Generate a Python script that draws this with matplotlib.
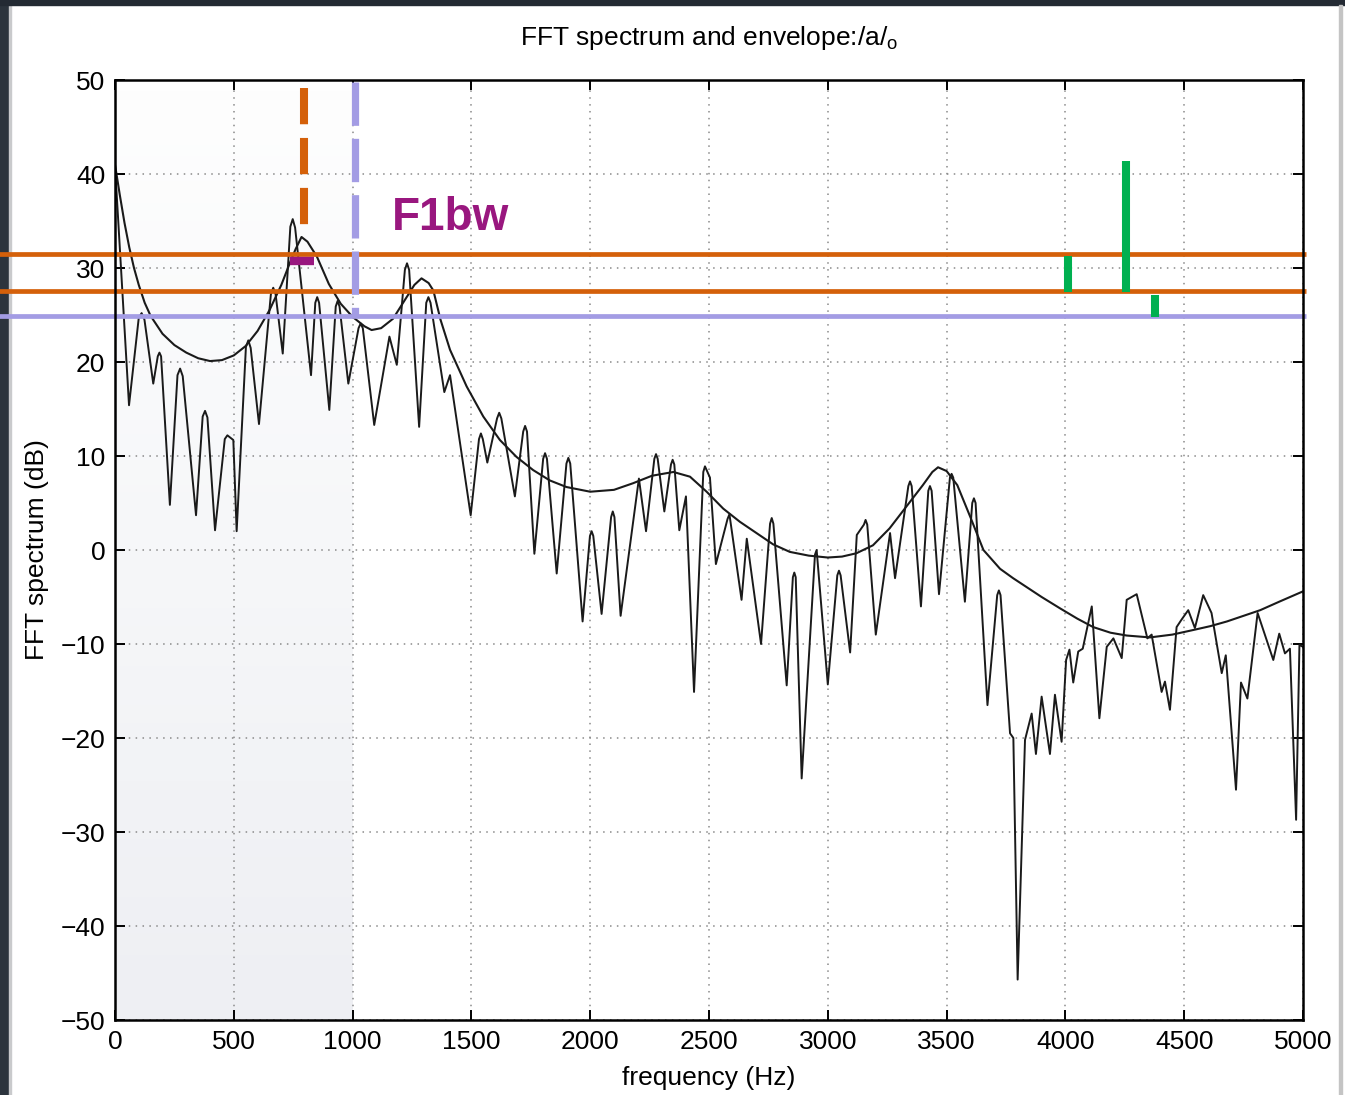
import numpy as np
import matplotlib.pyplot as plt
from matplotlib.patches import Rectangle
from matplotlib.colors import LinearSegmentedColormap

plt.rcParams['font.family'] = ['Liberation Sans', 'DejaVu Sans']
plt.rcParams['mathtext.fontset'] = 'custom'
plt.rcParams['mathtext.rm'] = 'Liberation Sans'

# FFT spectrum (Hz, dB)
spec_f = [0, 59, 100, 112, 124, 161, 180, 187, 194, 231, 263, 274, 285, 341, 369, 379, 389, 421,
          462, 473, 498, 512, 551, 561, 571, 606, 656, 666, 676, 706, 738, 748, 758,
          825, 843, 851, 859, 902, 929, 937, 945, 982, 1025, 1034, 1043, 1091, 1155, 1186,
          1220, 1229, 1238, 1280, 1310, 1319, 1328, 1386, 1410, 1497,
          1532, 1540, 1548, 1567, 1608, 1617, 1626, 1683, 1718, 1726, 1734, 1765,
          1802, 1810, 1818, 1859, 1900, 1908, 1916, 1968, 1999, 2006, 2013, 2048,
          2088, 2095, 2102, 2128, 2205, 2235, 2270, 2277, 2284, 2312, 2340, 2347, 2354,
          2375, 2403, 2437, 2476, 2483, 2504, 2529, 2578, 2586, 2637, 2659,
          2719, 2757, 2764, 2771, 2827, 2853, 2859, 2865, 2890, 2946, 2953, 3000,
          3040, 3047, 3054, 3094, 3122, 3152, 3159, 3166, 3202, 3262, 3283,
          3339, 3346, 3353, 3392, 3423, 3430, 3437, 3468, 3514, 3521, 3528, 3577,
          3608, 3615, 3622, 3672, 3713, 3720, 3727, 3767, 3781, 3799, 3830, 3858,
          3876, 3900, 3935, 3956, 3984, 4003, 4017, 4033, 4054, 4073, 4111, 4143, 4174, 4202,
          4237, 4258, 4300, 4345, 4363, 4405, 4419, 4440, 4468, 4489, 4517, 4545, 4580, 4615,
          4658, 4675, 4718, 4739, 4766, 4809, 4875, 4900, 4924, 4945, 4971, 4985, 5000]
spec_db = [40.9, 15.4, 24.7, 25.2, 24.5, 17.7, 20.6, 21.0, 20.6, 4.8, 18.6, 19.3, 18.5, 3.7, 14.2, 14.8, 14.1, 2.1,
           11.8, 12.2, 11.7, 2.0, 21.6, 22.3, 21.5, 13.4, 27.2, 27.9, 27.2, 20.9, 34.4, 35.2, 34.3,
           18.6, 26.3, 26.9, 26.3, 14.9, 25.9, 26.5, 25.9, 17.7, 23.6, 24.1, 23.6, 13.3, 22.7, 19.7,
           29.8, 30.5, 29.8, 13.1, 26.3, 26.9, 26.3, 16.8, 18.6, 3.7,
           11.8, 12.4, 11.8, 9.3, 14.0, 14.6, 14.0, 5.7, 12.6, 13.2, 12.6, -0.4,
           9.7, 10.3, 9.7, -2.5, 9.2, 9.8, 9.2, -7.6, 1.5, 2.0, 1.5, -6.8,
           3.5, 4.1, 3.5, -7.0, 7.6, 2.0, 9.7, 10.2, 9.7, 4.1, 9.1, 9.6, 9.1,
           2.1, 5.7, -15.1, 8.3, 8.9, 7.7, -1.5, 3.3, 3.8, -5.3, 1.2,
           -10.0, 2.8, 3.4, 2.8, -14.4, -2.9, -2.4, -2.9, -24.3, -0.5, 0.0, -14.3,
           -2.7, -2.2, -2.7, -10.9, 1.6, 2.7, 3.2, 2.7, -9.0, 1.8, -3.0,
           6.8, 7.3, 6.8, -6.0, 6.3, 6.8, 6.3, -4.7, 7.7, 8.1, 7.7, -5.5,
           5.0, 5.5, 5.0, -16.5, -4.8, -4.3, -4.8, -19.5, -20.0, -45.7, -20.2, -17.4,
           -21.7, -15.6, -21.7, -15.4, -20.4, -11.7, -10.6, -14.1, -10.8, -10.5, -6.0, -17.9, -10.3, -9.4,
           -11.5, -5.3, -4.7, -9.4, -9.0, -15.1, -14.0, -17.0, -8.2, -7.4, -6.4, -8.3, -4.8, -6.7,
           -13.1, -11.2, -25.5, -14.1, -15.8, -6.7, -11.7, -8.9, -11.0, -10.5, -28.7, -10.1, -10.3]

# LPC envelope
env_f = [0, 20, 40, 60, 80, 100, 125, 150, 200, 250, 300, 350, 400, 450, 500, 550, 600, 650,
         700, 740, 760, 785, 810, 850, 900, 950, 1000, 1050, 1080, 1120, 1170, 1220, 1260,
         1290, 1320, 1340, 1370, 1410, 1480, 1550, 1620, 1690, 1760, 1830, 1900, 2000, 2100,
         2180, 2260, 2350, 2420, 2490, 2560, 2630, 2700, 2770, 2840, 2920, 3000, 3060, 3120,
         3190, 3260, 3330, 3400, 3440, 3464, 3500, 3545, 3600, 3655, 3725, 3780, 3840, 3900,
         3977, 4050, 4117, 4190, 4258, 4356, 4450, 4540, 4610, 4680, 4750, 4820, 4900, 5000]
env_db = [41.0, 37.8, 34.8, 32.2, 30.0, 28.2, 26.3, 24.9, 23.0, 21.8, 21.0, 20.4, 20.1, 20.2, 20.7, 21.7, 23.3, 25.5,
          28.2, 30.8, 32.0, 33.3, 32.8, 31.2, 28.3, 26.2, 24.8, 23.8, 23.4, 23.6, 24.6, 26.6, 28.2,
          28.9, 28.4, 27.6, 24.5, 21.3, 17.4, 14.2, 11.7, 9.9, 8.5, 7.4, 6.7, 6.2, 6.4,
          7.1, 7.9, 8.3, 7.8, 6.2, 4.4, 3.0, 1.8, 0.6, -0.2, -0.6, -0.8, -0.7, -0.35,
          0.5, 2.3, 4.6, 6.9, 8.3, 8.8, 8.4, 6.9, 3.5, 0.0, -2.0, -3.0, -4.0, -5.0,
          -6.2, -7.3, -8.2, -8.8, -9.1, -9.3, -9.0, -8.5, -8.1, -7.6, -7.0, -6.4, -5.5, -4.4]

# formant / bandwidth markers
f1 = 795
f1_peak = 33.3
f1_levels = [31.5, 27.6]
bw_edge = 1010
bw_level = 24.9
bw_span = [737, 838]
bw_mark = 30.7
green_f = [4012, 4255, 4377]
green_lo = [27.4, 27.4, 24.8]
green_hi = [31.3, 41.4, 27.1]

orange = '#d4600a'
lavender = '#a39ce4'
purple = '#99177f'
green = '#00b050'

fig = plt.figure(figsize=(13.45, 10.95), dpi=100, facecolor='white')
ax = fig.add_axes([115/1345, 75/1095, 1188/1345, 940/1095])

# page edges
fig.add_artist(Rectangle((0, 0), 9/1345, 1, transform=fig.transFigure, color='#2c343d', zorder=0))
fig.add_artist(Rectangle((9/1345, 0), 2/1345, 1, transform=fig.transFigure, color='#c9cacc', zorder=0))
fig.add_artist(Rectangle((0, 1 - 5/1095), 1, 5/1095, transform=fig.transFigure, color='#232a33', zorder=0))
fig.add_artist(Rectangle((1339/1345, 0), 3/1345, 1 - 5/1095, transform=fig.transFigure, color='#c4c4c4', zorder=0))

# shaded band 0-1000 Hz
grad = np.linspace(0, 1, 64).reshape(-1, 1)
shade = LinearSegmentedColormap.from_list('shade', ['#fefefe', '#f6f7f9', '#eeeff3'])
ax.imshow(grad, extent=[0, 1000, -50, 50], aspect='auto', origin='upper',
          cmap=shade, zorder=0, interpolation='bilinear')

ax.plot(spec_f, spec_db, color='#1a1a1a', lw=1.4, zorder=3)
ax.plot(env_f, env_db, color='#1a1a1a', lw=1.5, zorder=3)

# horizontal level lines run across the page
for lev in f1_levels:
    ax.plot([-490, 5012], [lev, lev], color=orange, lw=3.4, clip_on=False, zorder=4, solid_capstyle='butt')
ax.plot([-490, 5012], [bw_level, bw_level], color=lavender, lw=3.4, clip_on=False, zorder=4, solid_capstyle='butt')

ax.plot([f1, f1], [49.1, f1_peak], color=orange, lw=5.8, dashes=(4.5, 1.7), zorder=5)
ax.plot([bw_edge, bw_edge], [49.8, bw_level], color=lavender, lw=5.2, dashes=(6, 1.8), zorder=5)
ax.plot(bw_span, [bw_mark, bw_mark], color=purple, lw=6, zorder=6, solid_capstyle='butt')

for x, lo, hi in zip(green_f, green_lo, green_hi):
    ax.plot([x, x], [lo, hi], color=green, lw=5.8, zorder=6, solid_capstyle='butt')

ax.text(1164, 34.0, 'F1bw', color=purple, fontsize=33, fontweight='bold', ha='left', va='baseline', zorder=7)

ax.set_xlim(0, 5000)
ax.set_ylim(-50, 50)
ax.set_xticks(np.arange(0, 5001, 500))
ax.set_yticks(np.arange(-50, 51, 10))
ax.grid(True, color='#8a8a8a', linestyle=(0, (1, 3.5)), lw=1.1)
ax.tick_params(direction='in', length=7, width=1.4, top=True, right=True, labelsize=19, pad=7)
for s in ax.spines.values():
    s.set_linewidth(1.8)
    s.set_zorder(8)

ax.set_xlabel('frequency (Hz)', fontsize=19, labelpad=9)
ax.set_ylabel('FFT spectrum (dB)', fontsize=19, labelpad=8)
ax.set_title('FFT spectrum and envelope:/a/$_{\\mathrm{o}}$', fontsize=19, pad=25)

fig.savefig('out.png', dpi=100, facecolor='white')
